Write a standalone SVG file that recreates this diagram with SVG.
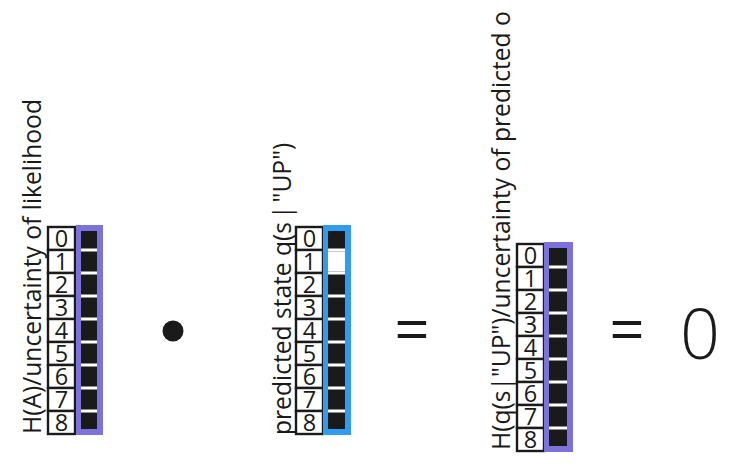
<svg xmlns="http://www.w3.org/2000/svg" width="754" height="466" viewBox="0 0 754 466">
<style>
.lbl{fill:#fff;stroke:#1a1a1a;stroke-width:2.4}
.dg{font-family:"Open Sans",sans-serif;font-size:23.5px;fill:#1a1a1a;text-anchor:middle}
.title{font-family:"Open Sans",sans-serif;font-size:24.6px;fill:#1a1a1a}
.big{font-family:"Open Sans",sans-serif;fill:#1a1a1a;text-anchor:middle}
.sep{stroke:#fff;stroke-width:3}
</style>
<rect width="754" height="466" fill="#fff"/>
<g id="likelihood">
<text class="title" transform="translate(41,434) rotate(-90)">H(A)/uncertainty of likelihood</text>
<g transform="translate(48,227)">
<rect class="lbl" x="0" y="0" width="27" height="23"/><text class="dg" x="13.5" y="20">0</text>
<rect class="lbl" x="0" y="23" width="27" height="23"/><text class="dg" x="13.5" y="43">1</text>
<rect class="lbl" x="0" y="46" width="27" height="23"/><text class="dg" x="13.5" y="66">2</text>
<rect class="lbl" x="0" y="69" width="27" height="23"/><text class="dg" x="13.5" y="89">3</text>
<rect class="lbl" x="0" y="92" width="27" height="23"/><text class="dg" x="13.5" y="112">4</text>
<rect class="lbl" x="0" y="115" width="27" height="23"/><text class="dg" x="13.5" y="135">5</text>
<rect class="lbl" x="0" y="138" width="27" height="23"/><text class="dg" x="13.5" y="158">6</text>
<rect class="lbl" x="0" y="161" width="27" height="23"/><text class="dg" x="13.5" y="181">7</text>
<rect class="lbl" x="0" y="184" width="27" height="23"/><text class="dg" x="13.5" y="204">8</text>
<rect x="28" y="-2" width="27" height="210" fill="#7b72db"/>
<rect x="33" y="4" width="16" height="198" fill="#1a1a1a"/>
<path class="sep" d="M33 23H49M33 46H49M33 69H49M33 92H49M33 115H49M33 138H49M33 161H49M33 184H49"/>
</g>
</g>
<g id="predicted-state">
<text class="title" transform="translate(291,435) rotate(-90)">predicted state q(s<tspan dx="3">|</tspan><tspan dx="3">"UP")</tspan></text>
<g transform="translate(296,227)">
<rect class="lbl" x="0" y="0" width="27" height="23"/><text class="dg" x="13.5" y="20">0</text>
<rect class="lbl" x="0" y="23" width="27" height="23"/><text class="dg" x="13.5" y="43">1</text>
<rect class="lbl" x="0" y="46" width="27" height="23"/><text class="dg" x="13.5" y="66">2</text>
<rect class="lbl" x="0" y="69" width="27" height="23"/><text class="dg" x="13.5" y="89">3</text>
<rect class="lbl" x="0" y="92" width="27" height="23"/><text class="dg" x="13.5" y="112">4</text>
<rect class="lbl" x="0" y="115" width="27" height="23"/><text class="dg" x="13.5" y="135">5</text>
<rect class="lbl" x="0" y="138" width="27" height="23"/><text class="dg" x="13.5" y="158">6</text>
<rect class="lbl" x="0" y="161" width="27" height="23"/><text class="dg" x="13.5" y="181">7</text>
<rect class="lbl" x="0" y="184" width="27" height="23"/><text class="dg" x="13.5" y="204">8</text>
<rect x="27" y="-2" width="28" height="210" fill="#2f9cef"/>
<rect x="32" y="4" width="17" height="198" fill="#1a1a1a"/>
<rect x="32" y="24.5" width="17" height="20" fill="#fff"/>
<path class="sep" d="M32 23H49M32 46H49M32 69H49M32 92H49M32 115H49M32 138H49M32 161H49M32 184H49"/>
</g>
</g>
<g id="predicted-o">
<text class="title" transform="translate(510,450) rotate(-90)">H(q(s|"UP")/uncertainty of predicted o</text>
<g transform="translate(517,244)">
<rect class="lbl" x="0" y="0" width="27" height="23"/><text class="dg" x="13.5" y="20">0</text>
<rect class="lbl" x="0" y="23" width="27" height="23"/><text class="dg" x="13.5" y="43">1</text>
<rect class="lbl" x="0" y="46" width="27" height="23"/><text class="dg" x="13.5" y="66">2</text>
<rect class="lbl" x="0" y="69" width="27" height="23"/><text class="dg" x="13.5" y="89">3</text>
<rect class="lbl" x="0" y="92" width="27" height="23"/><text class="dg" x="13.5" y="112">4</text>
<rect class="lbl" x="0" y="115" width="27" height="23"/><text class="dg" x="13.5" y="135">5</text>
<rect class="lbl" x="0" y="138" width="27" height="23"/><text class="dg" x="13.5" y="158">6</text>
<rect class="lbl" x="0" y="161" width="27" height="23"/><text class="dg" x="13.5" y="181">7</text>
<rect class="lbl" x="0" y="184" width="27" height="23"/><text class="dg" x="13.5" y="204">8</text>
<rect x="27" y="-2" width="29" height="210" fill="#7b72db"/>
<rect x="32" y="4" width="18" height="198" fill="#1a1a1a"/>
<path class="sep" d="M32 23H50M32 46H50M32 69H50M32 92H50M32 115H50M32 138H50M32 161H50M32 184H50"/>
</g>
</g>
<g id="operators">
<circle cx="173" cy="331" r="10.5" fill="#1a1a1a"/>
<text class="big" x="412" y="352" font-size="62">=</text>
<text class="big" x="627" y="352" font-size="62">=</text>
<text class="big" x="700" y="359" font-size="70" font-weight="330">0</text>
</g>
<g id="connectors"/>
</svg>
